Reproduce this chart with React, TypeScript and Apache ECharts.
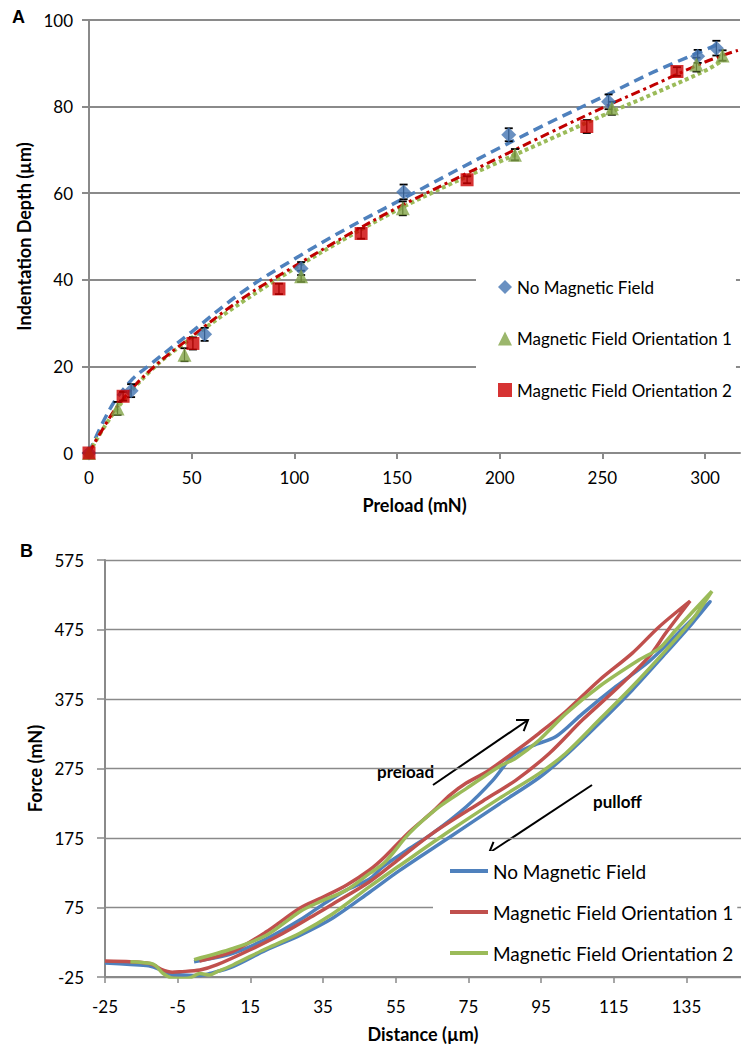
import React, { useEffect, useRef } from 'react';
import * as echarts from 'echarts';

const FONT = 'Lato, "Open Sans", sans-serif';

// ---------- Panel A data ----------
const preloadTicks = [0, 50, 100, 150, 200, 250, 300];
const depthTicks = [0, 20, 40, 60, 80, 100];

const seriesNames = ['No Magnetic Field', 'Magnetic Field Orientation 1', 'Magnetic Field Orientation 2'];

const noFieldPreload = [0, 20.5, 56.3, 103.3, 153.2, 204.4, 253, 296.4, 305.5];
const noFieldDepth = [0, 14.4, 27.4, 42.6, 60.3, 73.5, 81.1, 91.6, 93.5];
const noFieldErr = [0, 1.5, 1.5, 1.5, 1.7, 1.5, 1.7, 1.5, 1.7];

const orient1Preload = [0, 13.9, 46.5, 103.3, 152.8, 207.4, 254.6, 295.8, 308.5];
const orient1Depth = [0, 10.3, 22.7, 40.8, 56.5, 68.9, 79.6, 89.7, 91.8];
const orient1Err = [0, 1.5, 1.5, 1.3, 1.6, 1.3, 1.5, 1.6, 1.2];

const orient2Preload = [0, 16.6, 50.6, 92.5, 132.5, 184.1, 242.4, 286.3];
const orient2Depth = [0, 13.1, 25.3, 37.9, 50.7, 63.1, 75.4, 88.1];
const orient2Err = [0, 1.0, 1.4, 1.2, 1.2, 0.8, 1.5, 1.0];

// trend lines
const noFieldTrendX = [0, 10, 20, 30, 50, 75, 100, 125, 150, 175, 200, 225, 250, 275, 305.5];
const noFieldTrendY = [0, 10, 16.5, 20.5, 28, 37.3, 44.8, 51.7, 58, 64.3, 70.5, 76.5, 82.2, 88, 94.2];
const orient1TrendX = [0, 12, 30, 50, 75, 100, 125, 150, 175, 200, 225, 250, 275, 300, 309];
const orient1TrendY = [0, 9.2, 19, 26.6, 35, 42.6, 49.6, 56.1, 61.9, 67.3, 72.6, 77.9, 83, 88.3, 90.8];
const orient2TrendX = [0, 6, 15, 30, 50, 75, 100, 125, 150, 175, 200, 225, 250, 275, 300, 316];
const orient2TrendY = [0, 5, 11.5, 19.2, 26.9, 35.8, 43.1, 50.1, 56.6, 62.5, 68.3, 74.1, 79.7, 85, 90.3, 93];

// ---------- Panel B data ----------
const distanceTicks = [-25, -5, 15, 35, 55, 75, 95, 115, 135];
const forceTicks = [-25, 75, 175, 275, 375, 475, 575];

// [distance µm, force mN] in drawing order (loading branch up, unloading branch down)
const noFieldLoop: [number, number][] = [
  [-0.5, -3], [10.2, 9], [19.4, 30], [28.6, 57], [36, 83], [41.4, 100], [47.8, 116], [51.5, 134],
  [58, 157], [65.2, 182], [74.4, 220], [81.7, 258], [87.2, 293], [92.7, 308], [99.1, 321],
  [106.4, 354], [115.6, 393], [124.7, 429], [132, 466], [141.5, 515],
  [136.6, 484], [129.3, 441], [120.1, 388], [111, 340], [101.8, 294], [94.5, 262], [83.5, 224],
  [69.8, 176], [56, 128], [47.8, 97], [37.7, 60], [28.6, 35], [19.4, 14], [10.2, -10], [3.8, -20],
  [1, -23], [-3.5, -22], [-8, -20], [-10, -14], [-13, -9], [-18, -7], [-25, -5],
];
const orient1Loop: [number, number][] = [
  [1, -2], [10.2, 12], [19.4, 40], [28.6, 74], [35, 90], [41.4, 107], [47.8, 129], [52, 148],
  [58.8, 184], [65.2, 213], [70, 237], [74.4, 254], [79.9, 270], [87.2, 297], [94.5, 326],
  [101.8, 357], [111, 402], [120.1, 441], [127.5, 479], [136, 516],
  [129.3, 470], [124.7, 436], [115.6, 389], [106.4, 345], [97.3, 297], [88, 258], [78.9, 228],
  [65.2, 182], [56, 145], [47.8, 112], [37.7, 80], [33.2, 66], [24, 38], [14.8, 13.8], [5.7, -7.7],
  [1.1, -15], [-4.4, -17.4], [-6.5, -18], [-9.5, -14], [-11.5, -8], [-13.5, -5], [-18, -3], [-25, -2],
];
const orient2Loop: [number, number][] = [
  [-0.5, 0], [10.2, 16], [19.4, 35], [28.6, 69], [34, 83], [41.4, 100], [47.8, 124], [52, 140],
  [58.8, 182], [67, 220], [74.4, 246], [83.5, 278], [88.1, 290], [94.5, 316], [101.8, 354],
  [111, 393], [121.9, 431], [127.5, 448], [132, 474], [142, 530],
  [136.6, 489], [129.3, 445], [120.1, 393], [111, 345], [101.8, 297], [94.5, 268], [83.5, 232],
  [69.8, 185], [56, 135], [47.8, 105], [37.7, 66], [28.6, 38], [19.4, 16], [10.2, -7.7], [6, -17],
  [3.8, -22], [1.1, -20], [-1.5, -26], [-3.5, -27], [-6.2, -27], [-9, -20], [-11, -9], [-12.6, -5.3],
  [-18, -3],
];

const BLUE = '#4F81BD';
const RED_A = '#C00000';
const GREEN = '#9BBB59';
const RED_B = '#C0504D';
const GRID = '#8a8a8a';

function zip(a: number[], b: number[]) {
  return a.map((v, i) => [v, b[i]]);
}

function errSeries(x: number[], y: number[], e: number[]) {
  return {
    type: 'custom',
    silent: true,
    z: 3,
    encode: { x: 0, y: 1 },
    data: x.map((v, i) => [v, y[i], e[i]]),
    renderItem: (_p: any, api: any) => {
      const xv = api.value(0);
      const yv = api.value(1);
      const ev = api.value(2);
      if (!ev) return { type: 'group', children: [] };
      const t = api.coord([xv, yv + ev]);
      const b = api.coord([xv, yv - ev]);
      const w = 4;
      const st = { stroke: '#000', lineWidth: 1.2 };
      return {
        type: 'group',
        children: [
          { type: 'line', shape: { x1: t[0], y1: t[1], x2: b[0], y2: b[1] }, style: st },
          { type: 'line', shape: { x1: t[0] - w, y1: t[1], x2: t[0] + w, y2: t[1] }, style: { stroke: '#000', lineWidth: 1.8 } },
          { type: 'line', shape: { x1: b[0] - w, y1: b[1], x2: b[0] + w, y2: b[1] }, style: { stroke: '#000', lineWidth: 1.8 } },
        ],
      };
    },
  };
}

function arrow(tx: number, ty: number, hx: number, hy: number) {
  const ang = Math.atan2(hy - ty, hx - tx);
  const len = 12;
  const spread = 0.6;
  const p1 = [hx - len * Math.cos(ang - spread), hy - len * Math.sin(ang - spread)];
  const p2 = [hx - len * Math.cos(ang + spread), hy - len * Math.sin(ang + spread)];
  return [
    { type: 'line', shape: { x1: tx, y1: ty, x2: hx, y2: hy }, style: { stroke: '#000', lineWidth: 2 } },
    { type: 'polyline', shape: { points: [p1, [hx, hy], p2] }, style: { stroke: '#000', lineWidth: 2, fill: null } },
  ];
}

function optionA(): any {
  const axisLabel = { color: '#000', fontFamily: FONT, fontSize: 17 };
  return {
    animation: false,
    textStyle: { fontFamily: FONT },
    grid: { left: 89, top: 20, width: 651, height: 433 },
    xAxis: {
      type: 'value', min: 0, max: 317, interval: 50,
      name: 'Preload (mN)', nameLocation: 'middle', nameGap: 43,
      nameTextStyle: { fontFamily: FONT, fontWeight: 'bold', fontSize: 18, color: '#000' },
      axisLine: { lineStyle: { color: GRID, width: 2 } },
      axisTick: { length: 6, lineStyle: { color: GRID, width: 2 }, customValues: preloadTicks },
      axisLabel: { ...axisLabel, margin: 16, customValues: preloadTicks },
      splitLine: { show: false },
    },
    yAxis: {
      type: 'value', min: 0, max: 100, interval: 20,
      name: 'Indentation Depth (µm)', nameLocation: 'middle', nameGap: 50,
      nameTextStyle: { fontFamily: FONT, fontWeight: 'bold', fontSize: 18, color: '#000' },
      axisLine: { show: true, lineStyle: { color: GRID, width: 2 } },
      axisTick: { show: true, length: 7, lineStyle: { color: GRID, width: 2 }, customValues: depthTicks },
      axisLabel: { ...axisLabel, margin: 16, customValues: depthTicks },
      splitLine: { show: true, lineStyle: { color: GRID, width: 2 } },
    },
    legend: {
      left: 476, top: 266, orient: 'vertical',
      padding: [12, 4, 20, 22],
      backgroundColor: '#fff',
      itemWidth: 14, itemHeight: 14, itemGap: 33.5,
      textStyle: { fontFamily: FONT, fontSize: 17, color: '#000', lineHeight: 18 },
      selectedMode: false,
      data: [
        { name: seriesNames[0], icon: 'diamond', itemStyle: { color: '#4474B2' } },
        { name: seriesNames[1], icon: 'triangle', itemStyle: { color: '#82A447' } },
        { name: seriesNames[2], icon: 'rect', itemStyle: { color: '#CC0000' } },
      ],
    },
    graphic: [
      { type: 'text', left: 12, top: 8, style: { text: 'A', font: 'bold 18px "Liberation Sans", Arial, sans-serif', fill: '#000' } },
    ],
    series: [
      {
        type: 'line', data: zip(noFieldTrendX, noFieldTrendY), smooth: 0.4, symbol: 'none', z: 2, silent: true,
        lineStyle: { color: BLUE, width: 3.5, type: [10, 6] },
      },
      {
        type: 'line', data: zip(orient1TrendX, orient1TrendY), smooth: 0.4, symbol: 'none', z: 2, silent: true,
        lineStyle: { color: GREEN, width: 4, type: [4, 3] },
      },
      {
        type: 'line', data: zip(orient2TrendX, orient2TrendY), smooth: 0.4, symbol: 'none', z: 2, silent: true,
        lineStyle: { color: RED_A, width: 3, type: [9, 4, 3, 4] },
      },
      errSeries(noFieldPreload, noFieldDepth, noFieldErr),
      errSeries(orient1Preload, orient1Depth, orient1Err),
      errSeries(orient2Preload, orient2Depth, orient2Err),
      {
        name: seriesNames[0], type: 'scatter', data: zip(noFieldPreload, noFieldDepth), z: 4,
        symbol: 'diamond', symbolSize: 15, itemStyle: { color: '#4474B2' },
      },
      {
        name: seriesNames[1], type: 'scatter', data: zip(orient1Preload, orient1Depth), z: 4,
        symbol: 'triangle', symbolSize: 14, itemStyle: { color: '#82A447' },
      },
      {
        name: seriesNames[2], type: 'scatter', data: zip(orient2Preload, orient2Depth), z: 4,
        symbol: 'rect', symbolSize: 13, itemStyle: { color: '#CC0000' },
      },
    ],
  };
}

function optionB(): any {
  const axisLabel = { color: '#000', fontFamily: FONT, fontSize: 17 };
  return {
    animation: false,
    textStyle: { fontFamily: FONT },
    grid: { left: 105, top: 35, width: 636, height: 417 },
    xAxis: {
      type: 'value', min: -25, max: 150, interval: 20,
      name: 'Distance (µm)', nameLocation: 'middle', nameGap: 48,
      nameTextStyle: { fontFamily: FONT, fontWeight: 'bold', fontSize: 18, color: '#000' },
      axisLine: { onZero: false, lineStyle: { color: GRID, width: 2 } },
      axisTick: { length: 6, lineStyle: { color: GRID, width: 1.5 }, customValues: distanceTicks },
      axisLabel: { ...axisLabel, margin: 21, customValues: distanceTicks },
      splitLine: { show: false },
    },
    yAxis: {
      type: 'value', min: -25, max: 575, interval: 100,
      name: 'Force (mN)', nameLocation: 'middle', nameGap: 61,
      nameTextStyle: { fontFamily: FONT, fontWeight: 'bold', fontSize: 18, color: '#000' },
      axisLine: { show: true, onZero: false, lineStyle: { color: GRID, width: 2 } },
      axisTick: { show: true, length: 8, lineStyle: { color: GRID, width: 1.5 }, customValues: forceTicks },
      axisLabel: { ...axisLabel, margin: 21, customValues: forceTicks },
      splitLine: { show: true, lineStyle: { color: GRID, width: 1.3 } },
    },
    legend: {
      left: 433, top: 326, orient: 'vertical',
      padding: [10, 4, 8, 17],
      backgroundColor: '#fff',
      itemWidth: 38, itemHeight: 4, itemGap: 21,
      textStyle: { fontFamily: FONT, fontSize: 19, color: '#000', lineHeight: 20 },
      selectedMode: false,
      data: [
        { name: seriesNames[0], icon: 'rect', itemStyle: { color: BLUE } },
        { name: seriesNames[1], icon: 'rect', itemStyle: { color: RED_B } },
        { name: seriesNames[2], icon: 'rect', itemStyle: { color: GREEN } },
      ],
    },
    graphic: [
      { type: 'text', left: 20, top: 17, style: { text: 'B', font: 'bold 18px "Liberation Sans", Arial, sans-serif', fill: '#000' } },
      { type: 'text', left: 377, top: 238, style: { text: 'preload', font: 'bold 17px ' + FONT, fill: '#000' } },
      { type: 'text', left: 593, top: 268, style: { text: 'pulloff', font: 'bold 17px ' + FONT, fill: '#000' } },
      ...arrow(433, 260, 528, 195),
      ...arrow(592, 260, 489, 328),
    ],
    series: [
      {
        name: seriesNames[0], type: 'line', data: noFieldLoop, smooth: 0.3, symbol: 'none', z: 2,
        lineStyle: { color: BLUE, width: 3.5 }, itemStyle: { color: BLUE },
      },
      {
        name: seriesNames[1], type: 'line', data: orient1Loop, smooth: 0.3, symbol: 'none', z: 3,
        lineStyle: { color: RED_B, width: 3.5 }, itemStyle: { color: RED_B },
      },
      {
        name: seriesNames[2], type: 'line', data: orient2Loop, smooth: 0.3, symbol: 'none', z: 4,
        lineStyle: { color: GREEN, width: 3.5 }, itemStyle: { color: GREEN },
      },
    ],
  };
}

export default function App() {
  const refA = useRef<HTMLDivElement>(null);
  const refB = useRef<HTMLDivElement>(null);
  useEffect(() => {
    const a = echarts.init(refA.current!, undefined, { renderer: 'svg' });
    const b = echarts.init(refB.current!, undefined, { renderer: 'svg' });
    a.setOption(optionA());
    b.setOption(optionB());
    return () => {
      a.dispose();
      b.dispose();
    };
  }, []);
  return (
    <div style={{ position: 'fixed', left: 0, top: 0, width: 741, height: 1048, background: '#fff' }}>
      <div ref={refA} style={{ position: 'absolute', left: 0, top: 0, width: 741, height: 525 }} />
      <div ref={refB} style={{ position: 'absolute', left: 0, top: 525, width: 741, height: 523 }} />
    </div>
  );
}
